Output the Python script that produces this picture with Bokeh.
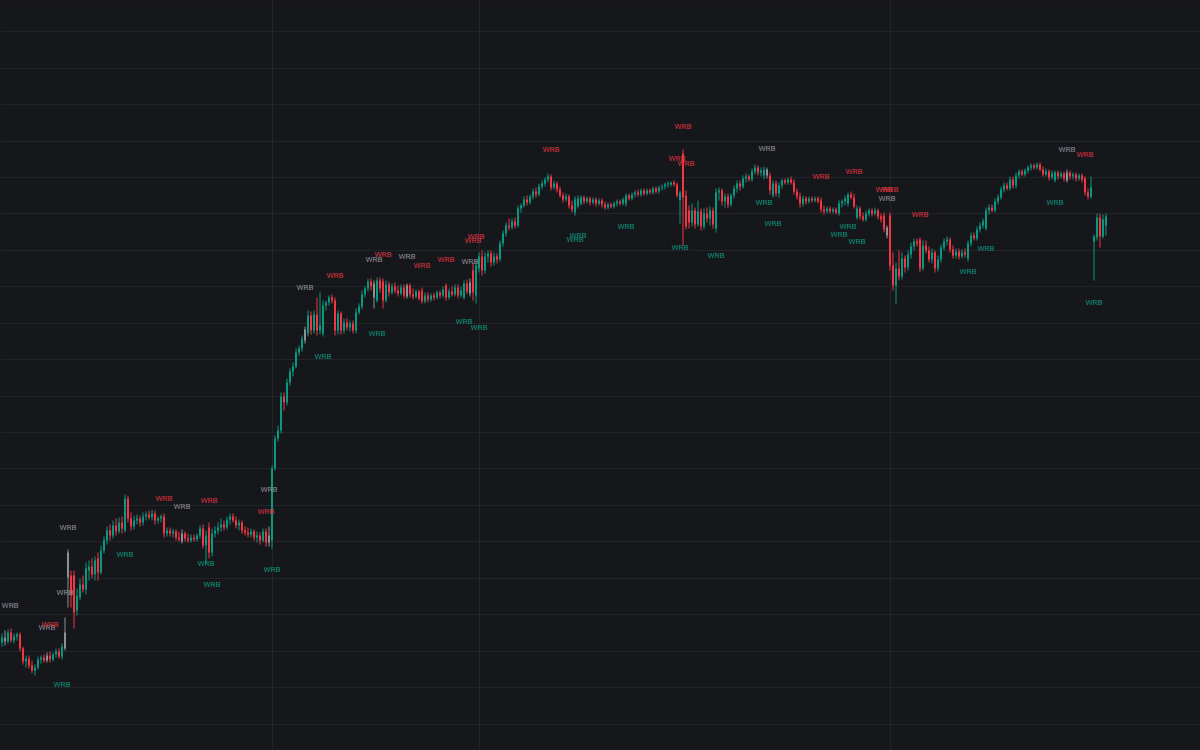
from bokeh.plotting import figure
from bokeh.models import (Range1d, FixedTicker, SingleIntervalTicker, ColumnDataSource,
                          GlobalInlineStyleSheet)
from bokeh.core.properties import value
from bokeh.embed import file_html
from bokeh.resources import INLINE

# ---------------- data (price units, one bar per session) ----------------
open_ = [
    118, 123, 119, 128, 120, 124, 126, 112, 99, 102,
    95, 90, 93, 101, 103, 100, 105, 101, 106, 109,
    104, 112, 183, 185, 185, 150, 163, 176, 171, 190,
    194, 186, 202, 188, 210, 220, 230, 225, 235, 229,
    238, 230, 262, 242, 234, 240, 242, 238, 244, 246,
    243, 247, 240, 242, 244, 227, 230, 227, 229, 223,
    219, 227, 222, 220, 223, 221, 225, 232, 215, 233,
    208, 227, 230, 233, 236, 233, 241, 244, 240, 235,
    238, 230, 228, 226, 229, 223, 225, 220, 229, 218,
    220, 292, 322, 330, 364, 358, 378, 389, 394, 408,
    412, 420, 427, 445, 430, 446, 430, 427, 455, 458,
    463, 460, 430, 447, 430, 438, 433, 437, 430, 448,
    454, 466, 472, 479, 463, 460, 480, 479, 460, 476,
    468, 474, 470, 467, 473, 464, 475, 466, 464, 469,
    470, 459, 465, 461, 465, 463, 468, 465, 475, 463,
    469, 466, 473, 465, 463, 477, 467, 490, 465, 492,
    504, 490, 504, 507, 498, 504, 501, 517, 527, 535,
    533, 539, 535, 552, 555, 561, 558, 564, 569, 566,
    574, 577, 581, 584, 573, 577, 571, 565, 561, 564,
    555, 548, 554, 557, 563, 559, 562, 558, 561, 557,
    560, 556, 553, 556, 554, 557, 559, 557, 557, 565,
    562, 566, 568, 566, 570, 567, 570, 568, 572, 569,
    573, 574, 576, 576, 578, 576, 560, 607, 565, 550,
    538, 550, 536, 549, 534, 547, 542, 550, 532, 568,
    570, 559, 564, 556, 565, 572, 577, 574, 582, 584,
    581, 589, 593, 588, 585, 591, 585, 565, 577, 567,
    575, 580, 578, 581, 578, 569, 564, 557, 562, 559,
    562, 560, 562, 560, 551, 549, 552, 549, 551, 547,
    557, 559, 557, 566, 563, 543, 552, 544, 541, 547,
    550, 547, 550, 544, 545, 525, 545, 495, 475, 492,
    484, 502, 493, 506, 514, 519, 521, 492, 515, 510,
    501, 508, 492, 501, 513, 519, 521, 511, 505, 509,
    504, 508, 502, 517, 525, 522, 531, 535, 532, 550,
    553, 550, 559, 563, 571, 575, 572, 581, 575, 585,
    589, 586, 590, 593, 595, 593, 596, 591, 586, 589,
    583, 580, 588, 584, 587, 580, 588, 584, 586, 582,
    585, 582, 568, 564, 519, 523, 543, 524, 535,
]
high = [
    127, 130, 131, 132, 127, 128, 128, 114, 105, 105,
    100, 96, 104, 105, 106, 108, 109, 108, 112, 112,
    117, 143, 211, 190, 190, 172, 182, 185, 198, 200,
    202, 204, 208, 215, 224, 234, 236, 240, 242, 243,
    244, 266, 265, 248, 245, 246, 245, 248, 249, 250,
    251, 250, 244, 246, 247, 233, 233, 232, 231, 229,
    231, 229, 227, 226, 226, 227, 235, 236, 230, 238,
    232, 234, 238, 242, 240, 244, 247, 247, 244, 241,
    240, 234, 233, 232, 231, 229, 228, 232, 232, 234,
    295, 325, 335, 368, 368, 382, 392, 398, 412, 415,
    425, 434, 450, 449, 450, 463, 468, 460, 460, 465,
    466, 463, 450, 449, 442, 442, 440, 440, 452, 457,
    470, 474, 482, 482, 480, 483, 483, 482, 480, 479,
    477, 478, 475, 476, 476, 477, 477, 472, 471, 471,
    473, 468, 468, 467, 468, 470, 470, 474, 477, 472,
    474, 476, 476, 474, 480, 481, 482, 498, 500, 508,
    510, 508, 510, 510, 508, 507, 520, 530, 538, 542,
    542, 543, 555, 557, 564, 565, 566, 572, 573, 577,
    580, 583, 587, 586, 580, 579, 574, 568, 567, 566,
    560, 564, 565, 565, 565, 564, 564, 563, 563, 562,
    562, 559, 558, 558, 559, 561, 561, 563, 567, 567,
    568, 570, 571, 572, 572, 572, 572, 574, 574, 575,
    576, 578, 579, 579, 580, 578, 570, 611, 570, 555,
    557, 553, 560, 552, 552, 553, 554, 553, 572, 573,
    572, 567, 567, 567, 575, 580, 580, 585, 587, 586,
    592, 596, 595, 593, 594, 593, 588, 580, 580, 578,
    582, 582, 583, 584, 581, 572, 568, 565, 564, 564,
    564, 564, 564, 563, 555, 554, 554, 553, 553, 560,
    561, 565, 568, 569, 567, 555, 554, 548, 550, 552,
    552, 553, 552, 547, 548, 535, 548, 508, 498, 510,
    508, 505, 510, 518, 522, 522, 523, 520, 520, 514,
    512, 510, 505, 516, 522, 524, 523, 515, 512, 512,
    511, 512, 520, 528, 528, 534, 538, 542, 553, 556,
    556, 562, 566, 574, 578, 578, 584, 584, 588, 591,
    591, 592, 595, 597, 597, 598, 598, 594, 592, 591,
    590, 590, 590, 589, 589, 591, 590, 588, 588, 587,
    587, 584, 572, 584, 526, 547, 547, 546, 547,
]
low = [
    114, 115, 117, 118, 117, 120, 109, 96, 93, 92,
    87, 85, 91, 97, 98, 98, 98, 99, 103, 102,
    101, 110, 153, 153, 132, 145, 160, 168, 166, 180,
    182, 180, 180, 186, 207, 216, 220, 222, 225, 227,
    227, 228, 238, 230, 231, 236, 234, 235, 240, 241,
    240, 236, 237, 238, 223, 224, 224, 223, 220, 219,
    217, 219, 218, 218, 219, 219, 222, 212, 197, 202,
    204, 223, 226, 229, 230, 231, 236, 238, 232, 230,
    227, 225, 223, 223, 220, 218, 216, 218, 214, 214,
    212, 290, 319, 327, 350, 355, 375, 384, 392, 405,
    409, 417, 424, 426, 427, 425, 426, 424, 450, 455,
    457, 425, 426, 426, 427, 430, 429, 427, 427, 446,
    451, 463, 469, 470, 452, 458, 468, 452, 458, 464,
    466, 467, 464, 465, 462, 462, 463, 461, 462, 460,
    457, 457, 458, 459, 460, 461, 462, 463, 460, 461,
    464, 464, 462, 463, 461, 466, 464, 460, 457, 488,
    485, 487, 498, 494, 495, 497, 499, 514, 524, 530,
    531, 532, 533, 548, 553, 555, 556, 561, 563, 564,
    571, 574, 578, 570, 571, 568, 563, 558, 559, 552,
    548, 545, 552, 555, 556, 557, 555, 556, 554, 555,
    553, 551, 551, 552, 552, 554, 555, 555, 554, 560,
    560, 563, 564, 564, 565, 565, 566, 566, 567, 567,
    570, 571, 573, 574, 574, 563, 537, 515, 531, 532,
    534, 532, 534, 530, 531, 538, 535, 532, 528, 560,
    555, 553, 552, 554, 562, 568, 570, 572, 578, 579,
    579, 586, 585, 584, 581, 582, 566, 563, 564, 563,
    572, 576, 576, 576, 566, 561, 553, 554, 556, 557,
    558, 558, 557, 548, 546, 547, 547, 547, 546, 545,
    553, 555, 554, 561, 552, 541, 541, 539, 539, 544,
    544, 545, 541, 538, 528, 522, 490, 470, 457, 480,
    481, 488, 490, 502, 510, 514, 488, 490, 507, 498,
    497, 488, 489, 498, 510, 515, 508, 502, 502, 501,
    502, 503, 499, 514, 520, 520, 528, 532, 530, 546,
    548, 548, 556, 561, 568, 570, 570, 572, 572, 582,
    584, 584, 587, 590, 591, 591, 589, 584, 584, 580,
    581, 578, 581, 582, 579, 578, 581, 581, 579, 580,
    578, 565, 561, 562, 480, 520, 513, 522, 525,
]
close = [
    123, 119, 128, 120, 124, 126, 112, 99, 102, 95,
    90, 93, 101, 103, 100, 105, 101, 106, 109, 104,
    114, 128, 208, 165, 148, 165, 176, 171, 192, 194,
    186, 200, 188, 210, 220, 230, 225, 235, 229, 238,
    232, 262, 242, 234, 240, 242, 238, 244, 246, 243,
    247, 240, 242, 244, 227, 230, 227, 229, 223, 221,
    227, 222, 220, 223, 221, 225, 232, 215, 225, 208,
    227, 230, 233, 236, 233, 241, 244, 240, 235, 238,
    230, 228, 226, 229, 223, 225, 220, 229, 218, 225,
    292, 322, 330, 364, 358, 378, 389, 394, 408, 412,
    422, 431, 445, 430, 446, 430, 435, 455, 458, 463,
    460, 430, 447, 430, 438, 433, 437, 430, 448, 454,
    466, 472, 479, 474, 477, 480, 472, 460, 476, 468,
    474, 470, 467, 473, 465, 475, 466, 464, 469, 462,
    459, 465, 461, 465, 463, 468, 465, 471, 463, 469,
    466, 473, 465, 470, 477, 469, 478, 468, 495, 504,
    490, 504, 507, 498, 504, 501, 517, 527, 535, 533,
    539, 535, 552, 555, 561, 558, 564, 569, 566, 574,
    577, 581, 584, 573, 577, 571, 565, 561, 564, 555,
    551, 561, 562, 563, 559, 562, 558, 561, 557, 560,
    556, 553, 556, 554, 557, 559, 557, 561, 565, 562,
    566, 568, 566, 570, 567, 570, 568, 572, 569, 573,
    574, 576, 577, 578, 576, 565, 568, 563, 534, 538,
    550, 536, 549, 534, 547, 542, 550, 536, 568, 570,
    559, 564, 556, 565, 572, 577, 574, 582, 584, 581,
    589, 593, 588, 590, 591, 585, 570, 577, 567, 575,
    580, 578, 581, 578, 569, 564, 557, 562, 559, 562,
    560, 562, 559, 551, 549, 552, 549, 551, 548, 557,
    559, 562, 566, 563, 554, 552, 544, 541, 547, 550,
    547, 550, 544, 541, 531, 533, 495, 475, 492, 484,
    502, 493, 506, 514, 519, 517, 492, 515, 510, 501,
    508, 492, 501, 513, 519, 521, 511, 505, 509, 504,
    508, 506, 517, 525, 522, 531, 535, 539, 550, 553,
    550, 559, 563, 571, 575, 572, 581, 575, 585, 589,
    586, 590, 593, 595, 593, 596, 591, 586, 589, 583,
    587, 588, 584, 587, 582, 588, 584, 586, 582, 585,
    581, 568, 564, 573, 524, 543, 524, 541, 544,
]

# first bar of each new period (vertical grid lines)
period_starts = [90, 159, 296]

# Wide Range Bar labels: bar index, kind and price where the label sits
label_idx = [1, 15, 16, 20, 21, 22, 41, 54, 60, 68, 69, 70, 88, 89, 90, 101, 107, 111,
             124, 125, 127, 135, 140, 148, 154, 156, 157, 158, 159, 183, 191, 192, 208,
             225, 226, 227, 228, 238, 254, 255, 257, 273, 279, 282, 284, 285, 294, 295,
             296, 306, 322, 328, 351, 355, 361, 364]
label_kind = ["neutral", "neutral", "down", "up", "neutral", "neutral", "up", "down", "neutral",
              "up", "down", "up", "down", "neutral", "up", "neutral", "up", "down",
              "neutral", "up", "down", "neutral", "down", "down", "up", "neutral", "down",
              "down", "up", "down", "up", "up", "up",
              "down", "up", "down", "down", "up", "up", "neutral", "up", "down", "up", "up",
              "down", "up", "down", "neutral", "down", "down", "up", "up", "up", "neutral",
              "down", "up"]
label_price = [155, 133, 136, 76, 168, 233, 206, 262, 254, 197, 260, 176, 249, 271, 191,
               473, 404, 485, 501, 427, 506, 504, 495, 501, 439, 499, 520, 524, 433, 611,
               521, 525, 534, 602, 513, 634, 597, 505, 558, 612, 537, 584, 526, 534, 589,
               519, 571, 562, 571, 546, 489, 512, 558, 611, 606, 458]
label_text = "WRB"

# ---------------- styles ----------------
BG = "#16171b"
GRID = "#232429"
UP = "#089981"
DOWN = "#f23645"
NEUTRAL = "#8d9098"
LABEL_COLORS = {"up": "#0b8f78", "down": "#d9323f", "neutral": "#8b8d95"}
X_START, X_END = -0.5, 399.5
LABEL_MARGIN = 3.2   # keep label text inside the plot area (in bars)

n = len(close)
neutral_bars = {i for i, k in zip(label_idx, label_kind) if k == "neutral"}
bar_color = []
for i in range(n):
    if i in neutral_bars:
        bar_color.append(NEUTRAL)
    elif close[i] >= open_[i]:
        bar_color.append(UP)
    else:
        bar_color.append(DOWN)

src = ColumnDataSource(dict(
    x=list(range(n)),
    open=open_, high=high, low=low, close=close,
    top=[max(o, c) for o, c in zip(open_, close)],
    bottom=[min(o, c) for o, c in zip(open_, close)],
    color=bar_color,
))

lab_src = ColumnDataSource(dict(
    x=[max(i, X_START + LABEL_MARGIN) for i in label_idx],
    y=label_price,
    text=[label_text] * len(label_idx),
    color=[LABEL_COLORS[k] for k in label_kind],
))

p = figure(width=1200, height=750,
           x_range=Range1d(X_START, X_END), y_range=Range1d(10, 760),
           output_backend="svg", toolbar_location=None,
           background_fill_color=BG, border_fill_color=BG,
           min_border=0, outline_line_color=None)
p.xaxis.visible = False
p.yaxis.visible = False
p.xgrid.ticker = FixedTicker(ticks=period_starts)
p.ygrid.ticker = SingleIntervalTicker(interval=36.44)
p.grid.grid_line_color = GRID
p.grid.grid_line_width = 1

p.segment(x0="x", y0="low", x1="x", y1="high", line_color="color", line_width=1, source=src)
p.vbar(x="x", width=0.68, top="top", bottom="bottom", fill_color="color",
       line_color=None, source=src)

p.text(x="x", y="y", text="text", text_color="color", source=lab_src,
       text_font=value("Roboto"), text_font_size="8px",
       text_align="center", text_baseline="middle")

p.stylesheets = [GlobalInlineStyleSheet(css="html, body { background-color: #16171b; }")]

open("out.html", "w").write(file_html(p, INLINE))
